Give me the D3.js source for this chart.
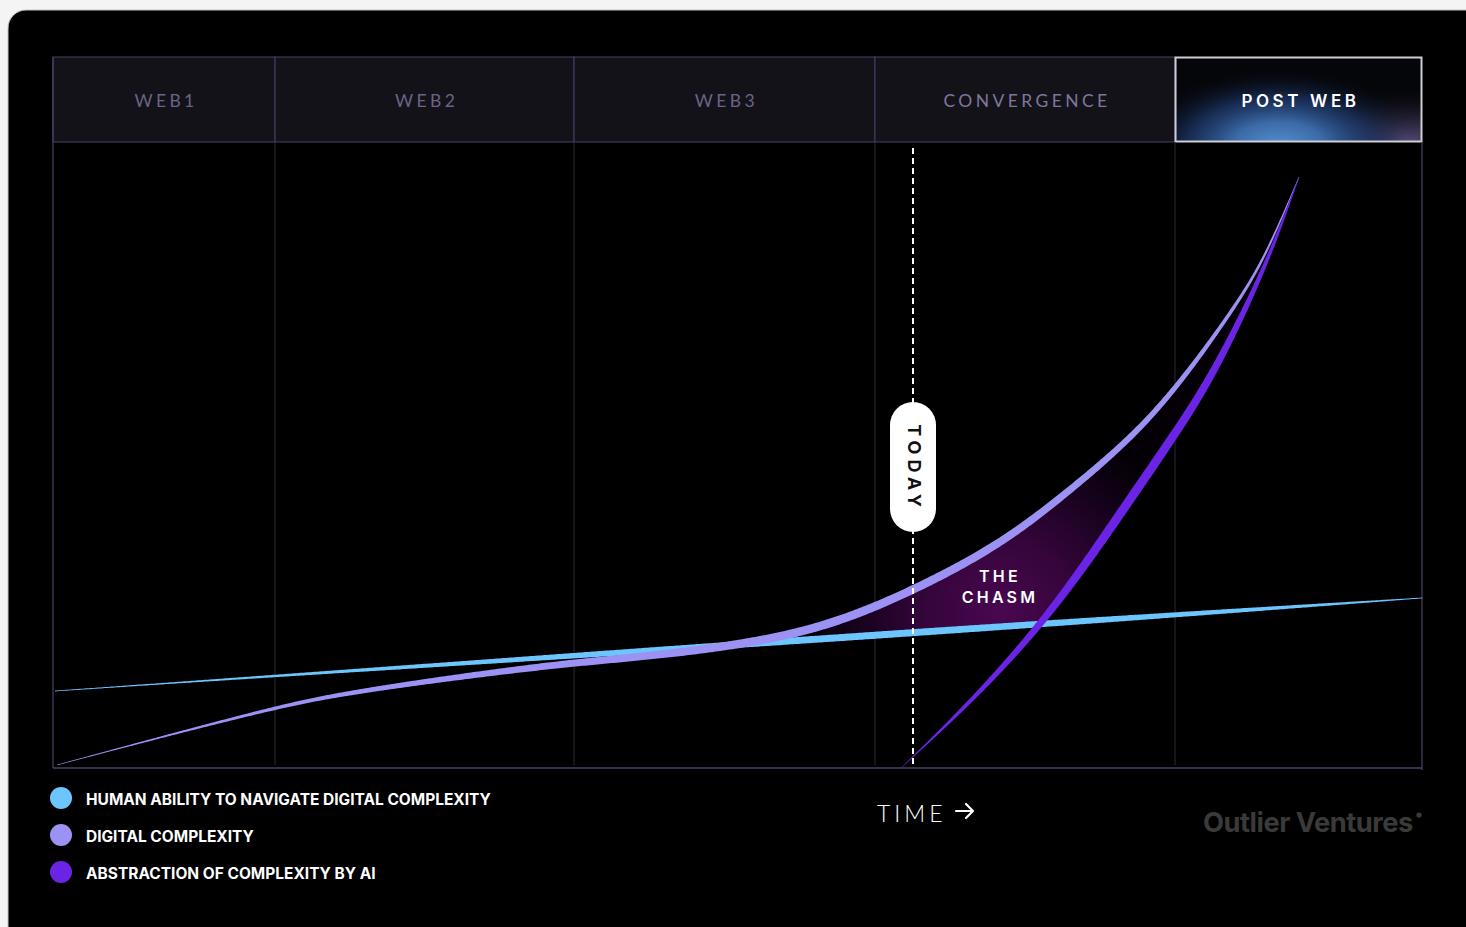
<!DOCTYPE html>
<html><head><meta charset="utf-8">
<script src="https://cdn.jsdelivr.net/npm/d3@7"></script>
<style>html,body{margin:0;padding:0;background:#f4f4f4;overflow:hidden}</style>
</head><body><svg id="c" width="1466" height="927"></svg>
<script>
// ---------- DATA ----------
const eras = ["WEB1", "WEB2", "WEB3", "CONVERGENCE", "POST WEB"];
const eraBounds = [0, 16.22, 38.06, 60.04, 81.96, 100];
const todayT = 62.82;
const humanAbility = [[0.15,12.30],[20,15.27],[40,18.23],[60,21.20],[80,24.17],[100,27.16]];
const digitalComplexity = [[0.29,0.48],[7.09,4.47],[16.07,9.58],[20.96,11.82],[29.0,14.38],[37.03,16.61],[43.61,17.89],[50.18,19.65],[56.54,22.52],[62.82,28.27],[69.17,35.62],[74.07,43.93],[78.89,52.88],[82.54,61.98],[86.71,74.76],[88.68,82.27],[91.02,94.41]];
const abstractionAI = [[62.02,0.16],[67.20,10.86],[72.10,22.68],[75.75,33.55],[78.89,43.61],[81.81,52.88],[84.51,61.98],[87.44,74.76],[89.41,84.82],[91.02,94.41]];
const legendNames = ["HUMAN ABILITY TO NAVIGATE DIGITAL COMPLEXITY","DIGITAL COMPLEXITY","ABSTRACTION OF COMPLEXITY BY AI"];
const legendColors = ["#6cc6fd","#9b92f4","#6b24e6"];

// ---------- LAYOUT ----------
const svg = d3.select("#c");
const L = 53, R = 1422, T = 142, B = 768, HT = 57;
const x = d3.scaleLinear().domain([0,100]).range([L,R]);
const y = d3.scaleLinear().domain([0,100]).range([B,T]);

const defs = svg.append("defs");
const pwx0 = x(eraBounds[4]), pwx1 = x(eraBounds[5]);
const pw = defs.append("radialGradient").attr("id","pwBlue").attr("gradientUnits","userSpaceOnUse")
  .attr("cx",0).attr("cy",0).attr("r",80)
  .attr("gradientTransform",`translate(${pwx0 + (pwx1-pwx0)*0.42},${T+4}) scale(1.9,1)`);
pw.append("stop").attr("offset",0).attr("stop-color","#5690d0").attr("stop-opacity",1);
pw.append("stop").attr("offset",0.3).attr("stop-color","#3e70b0").attr("stop-opacity",0.95);
pw.append("stop").attr("offset",0.6).attr("stop-color","#22407a").attr("stop-opacity",0.65);
pw.append("stop").attr("offset",1).attr("stop-color","#000").attr("stop-opacity",0);
const pp = defs.append("radialGradient").attr("id","pwPurple").attr("gradientUnits","userSpaceOnUse")
  .attr("cx",0).attr("cy",0).attr("r",60)
  .attr("gradientTransform",`translate(${pwx1-15},${T+2}) scale(1.6,1)`);
pp.append("stop").attr("offset",0).attr("stop-color","#76649e").attr("stop-opacity",0.95);
pp.append("stop").attr("offset",1).attr("stop-color","#000").attr("stop-opacity",0);
const cg = defs.append("radialGradient").attr("id","chasm").attr("gradientUnits","userSpaceOnUse")
  .attr("cx",1000).attr("cy",612).attr("r",200);
cg.append("stop").attr("offset",0).attr("stop-color","#4a0750");
cg.append("stop").attr("offset",0.35).attr("stop-color","#36053c");
cg.append("stop").attr("offset",0.75).attr("stop-color","#14021a");
cg.append("stop").attr("offset",1).attr("stop-color","#040005");

// outer black card
svg.append("rect").attr("x",8).attr("y",10).attr("width",1480).attr("height",950).attr("rx",18)
  .attr("fill","#000").attr("stroke","#c4c4c4").attr("stroke-width",1);

// header cells
const hdr = svg.append("g");
eras.forEach((e,i)=>{
  const x0 = x(eraBounds[i]), x1 = x(eraBounds[i+1]);
  const last = i === eras.length-1;
  if (!last) {
    hdr.append("rect").attr("x",x0).attr("y",HT).attr("width",x1-x0).attr("height",T-HT)
      .attr("fill","#131218").attr("stroke","#4b3f6a").attr("stroke-width",1);
  } else {
    hdr.append("rect").attr("x",x0).attr("y",HT).attr("width",x1-x0).attr("height",T-HT).attr("fill","#05060a");
    hdr.append("rect").attr("x",x0).attr("y",HT).attr("width",x1-x0).attr("height",T-HT).attr("fill","url(#pwPurple)");
    hdr.append("rect").attr("x",x0).attr("y",HT).attr("width",x1-x0).attr("height",T-HT).attr("fill","url(#pwBlue)");
  }
  hdr.append("text").attr("x",(x0+x1)/2 + 2).attr("y",(HT+T)/2 + 1)
    .attr("text-anchor","middle").attr("dominant-baseline","central")
    .attr("font-family", last ? "Inter" : "Lato").attr("font-weight", last ? 600 : 400)
    .attr("font-size", last ? 17 : 17.5).attr("letter-spacing", last ? 3.6 : 3.4)
    .attr("fill", last ? "#ffffff" : (i===3 ? "#7f769c" : "#6c6388")).text(e);
});
// post web border
hdr.append("rect").attr("x",pwx0+0.5).attr("y",HT+0.5).attr("width",pwx1-pwx0-1).attr("height",T-HT-1)
  .attr("fill","none").attr("stroke","#cfcdd8").attr("stroke-width",2);

// plot frame and dividers
const frame = svg.append("g");
eraBounds.slice(1,-1).forEach(b=>{
  frame.append("line").attr("x1",x(b)).attr("x2",x(b)).attr("y1",T).attr("y2",B-3)
    .attr("stroke","#27232f").attr("stroke-width",1.2);
});
frame.append("line").attr("x1",L).attr("x2",L).attr("y1",HT).attr("y2",B).attr("stroke","#4b4066").attr("stroke-width",1.2);
frame.append("line").attr("x1",R).attr("x2",R).attr("y1",T).attr("y2",B+2).attr("stroke","#4b4066").attr("stroke-width",1.2);
frame.append("line").attr("x1",L).attr("x2",R).attr("y1",B).attr("y2",B).attr("stroke","#4b4066").attr("stroke-width",1.5);

// ---------- CURVES ----------
const chasmG = svg.append("g");
const curveG = svg.append("g");
const lineGen = d3.line().x(d=>x(d[0])).y(d=>y(d[1])).curve(d3.curveBasis);

function sampleCurve(data){
  const tmp = curveG.append("path").attr("d", lineGen(data)).attr("fill","none");
  const node = tmp.node(), len = node.getTotalLength();
  const N = 600, pts = [];
  for (let i=0;i<=N;i++){ const p = node.getPointAtLength(len*i/N); pts.push([p.x,p.y]); }
  tmp.remove();
  return pts;
}
function ribbon(pts, wmin, wmax, peak, color){
  const N = pts.length-1, pw = Math.log(0.5)/Math.log(peak);
  const left=[], right=[];
  pts.forEach((pt,i)=>{
    const a = pts[Math.max(0,i-1)], b = pts[Math.min(N,i+1)];
    let dx=b[0]-a[0], dy=b[1]-a[1]; const l=Math.hypot(dx,dy)||1; dx/=l; dy/=l;
    const s=i/N, w = wmin + (wmax-wmin)*Math.sin(Math.PI*Math.pow(s,pw));
    left.push([pt[0]-dy*w/2, pt[1]+dx*w/2]);
    right.push([pt[0]+dy*w/2, pt[1]-dx*w/2]);
  });
  const poly = left.concat(right.reverse());
  curveG.append("path").attr("d", d3.line().curve(d3.curveLinearClosed)(poly)).attr("fill",color);
}
function lookup(pts){
  const sorted = pts.slice().sort((a,b)=>a[0]-b[0]);
  const bis = d3.bisector(d=>d[0]).left;
  return px=>{
    if (px < sorted[0][0] || px > sorted[sorted.length-1][0]) return null;
    let i = bis(sorted, px); if (i<=0) return sorted[0][1];
    const a = sorted[i-1], b = sorted[i]; const t = (px-a[0])/((b[0]-a[0])||1);
    return a[1] + t*(b[1]-a[1]);
  };
}

const bluePts = sampleCurve(humanAbility);
const lavPts = sampleCurve(digitalComplexity);
const purPts = sampleCurve(abstractionAI);

// chasm fill
{
  const fB = lookup(bluePts), fL = lookup(lavPts), fP = lookup(purPts);
  const xs = d3.range(735, 1300, 1);
  const rows = xs.map(px=>{
    const lv = fL(px), bl = fB(px), pu = fP(px);
    let bot = bl; if (pu!==null) bot = Math.min(bl, pu);
    return {px, top: lv, bot};
  });
  const area = d3.area().defined(d=>d.top!==null && d.top < d.bot)
    .x(d=>d.px).y0(d=>d.bot).y1(d=>d.top);
  chasmG.append("path").attr("d", area(rows)).attr("fill","url(#chasm)");
}

ribbon(bluePts, 0.8, 7, 0.6, legendColors[0]);
ribbon(lavPts, 0.6, 8.5, 0.55, legendColors[1]);
ribbon(purPts, 0.5, 9, 0.5, legendColors[2]);

// chasm label
const chasm = svg.append("g").attr("font-family","Inter").attr("font-weight",600).attr("font-size",16)
  .attr("letter-spacing",3.2).attr("fill","#ffffff").attr("text-anchor","middle");
chasm.append("text").attr("x",1000).attr("y",582).text("THE");
chasm.append("text").attr("x",1000).attr("y",603).text("CHASM");

// TODAY marker
const tx = x(todayT);
svg.append("line").attr("x1",tx).attr("x2",tx).attr("y1",148).attr("y2",766)
  .attr("stroke","#fff").attr("stroke-width",2).attr("stroke-dasharray","6,4");
svg.append("rect").attr("x",tx-23).attr("y",402).attr("width",46).attr("height",130).attr("rx",23).attr("fill","#fff");
svg.append("text").attr("transform",`translate(${tx+1},468) rotate(90)`)
  .attr("text-anchor","middle").attr("dominant-baseline","central")
  .attr("font-family","Inter").attr("font-weight",700).attr("font-size",18).attr("letter-spacing",5)
  .attr("fill","#111").text("TODAY");

// ---------- LEGEND ----------
const lg = svg.append("g");
const legY = [798, 835, 872];
legendNames.forEach((n,i)=>{
  lg.append("circle").attr("cx",61).attr("cy",legY[i]).attr("r",11).attr("fill",legendColors[i]);
  lg.append("text").attr("class","lt").attr("x",86).attr("y",legY[i]+1).attr("dominant-baseline","central")
    .attr("font-family","Inter").attr("font-weight",700).attr("font-size",15).attr("fill","#fff").text(n);
});
{
  const first = lg.select(".lt").node();
  const w = first.getComputedTextLength();
  const fs = 15*405/w;
  lg.selectAll(".lt").attr("font-size",fs);
}

// TIME axis label
svg.append("text").attr("x",877).attr("y",813).attr("dominant-baseline","central")
  .attr("font-family","Lato").attr("font-weight",300).attr("font-size",23).attr("letter-spacing",4)
  .attr("fill","#fff").text("TIME");
svg.append("path").attr("d","M956,811 H973 M966,804 L973,811 L966,818")
  .attr("fill","none").attr("stroke","#fff").attr("stroke-width",2.2).attr("stroke-linecap","round").attr("stroke-linejoin","round");

// logo
const logo = svg.append("text").attr("x",1203).attr("y",832)
  .attr("font-family","Inter").attr("font-weight",700).attr("font-size",25).attr("letter-spacing",-0.5)
  .attr("fill","#3a3a3a").text("Outlier Ventures");
{
  const w = logo.node().getComputedTextLength();
  logo.attr("font-size", 25*209/w);
}
svg.append("circle").attr("cx",1419).attr("cy",815).attr("r",2.6).attr("fill","#3a3a3a");
</script></body></html>
